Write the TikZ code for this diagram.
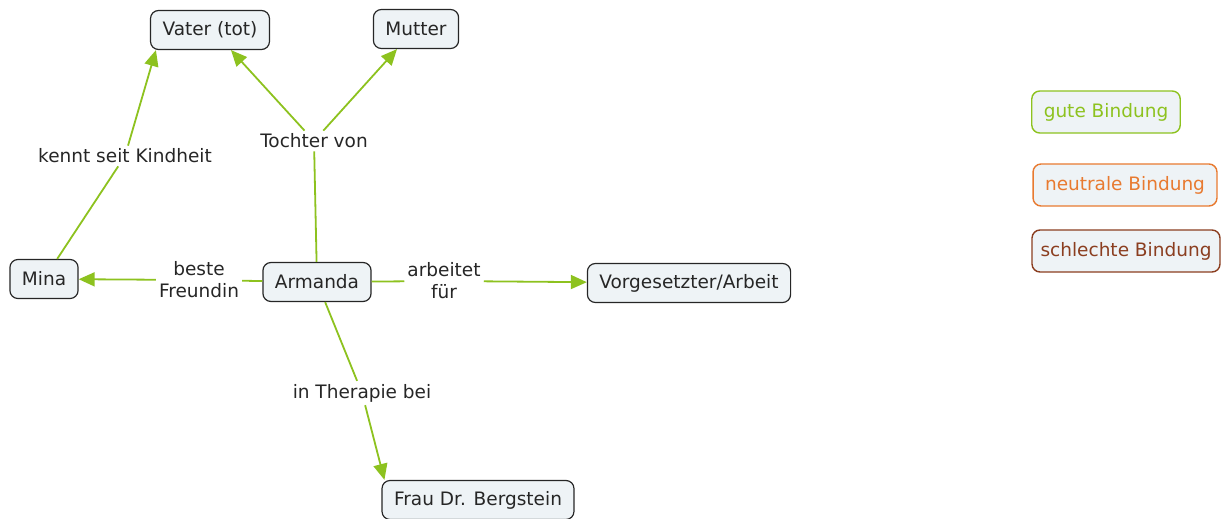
\documentclass[tikz,border=0pt]{standalone}
\usepackage{fontspec}
\setmainfont{DejaVu Sans}
\usetikzlibrary{arrows.meta}
\definecolor{bondgreen}{RGB}{141,194,31}
\definecolor{bondorange}{RGB}{232,122,48}
\definecolor{bondbrown}{RGB}{139,62,32}
\definecolor{conceptfill}{RGB}{238,243,246}
\begin{document}
\begin{tikzpicture}[
      x=1pt, y=-1pt,
      concept/.style={draw=black!85, fill=conceptfill, rounded corners=8pt,
                      line width=1.2pt, minimum height=39pt, inner xsep=12pt,
                      font=\fontsize{18.5}{21}\selectfont, text=black!85},
      legendbox/.style={concept, draw=#1, text=#1, line width=1.4pt,
                        minimum height=42pt},
      linklabel/.style={inner sep=3pt, align=center,
                        font=\fontsize{18.5}{22}\selectfont, text=black!85},
      link/.style={draw=bondgreen, line width=1.8pt},
      arrow/.style={link, -{Triangle[length=16pt,width=14pt]}}
    ]
      \useasboundingbox (0,0) rectangle (1229,519);
      % concepts
      \node[concept] (vater) at (210,30) {Vater (tot)};
      \node[concept] (mutter) at (416,29) {Mutter};
      \node[concept] (mina) at (44,279) {Mina};
      \node[concept] (armanda) at (317,282) {Armanda};
      \node[concept] (chef) at (689,283) {Vorgesetzter/Arbeit};
      \node[concept] (frau) at (478,500) {Frau Dr. Bergstein};
      % legend
      \node[legendbox=bondgreen] (gut) at (1106,112) {gute Bindung};
      \node[legendbox=bondorange] (neutral) at (1125,185) {neutrale Bindung};
      \node[legendbox=bondbrown, inner xsep=8.5pt] (schlecht) at (1126,251) {schlechte Bindung};
      % link labels
      \node[linklabel] (kennt) at (125,156) {kennt seit Kindheit};
      \node[linklabel] (tochter) at (314,141) {Tochter von};
      \node[linklabel] (beste) at (199,280) {beste\\Freundin};
      \node[linklabel] (arbeitet) at (444,281) {arbeitet\\für};
      \node[linklabel] (therapie) at (362,393) {in Therapie bei};
      % links
      \draw[link] (mina) -- (kennt);
      \draw[arrow] (kennt) -- ([xshift=6pt]vater.south west);
      \draw[link] (armanda) -- (tochter);
      \draw[arrow] (tochter) -- ([xshift=21pt]vater.south);
      \draw[arrow] (tochter) -- ([xshift=-19pt]mutter.south);
      \draw[link] (armanda) -- (beste);
      \draw[arrow] (beste) -- (mina);
      \draw[link] (armanda) -- (arbeitet);
      \draw[arrow] (arbeitet) -- (chef);
      \draw[link] (armanda) -- (therapie);
      \draw[arrow] (therapie) -- ([xshift=3pt]frau.north west);
    \end{tikzpicture}
\end{document}
